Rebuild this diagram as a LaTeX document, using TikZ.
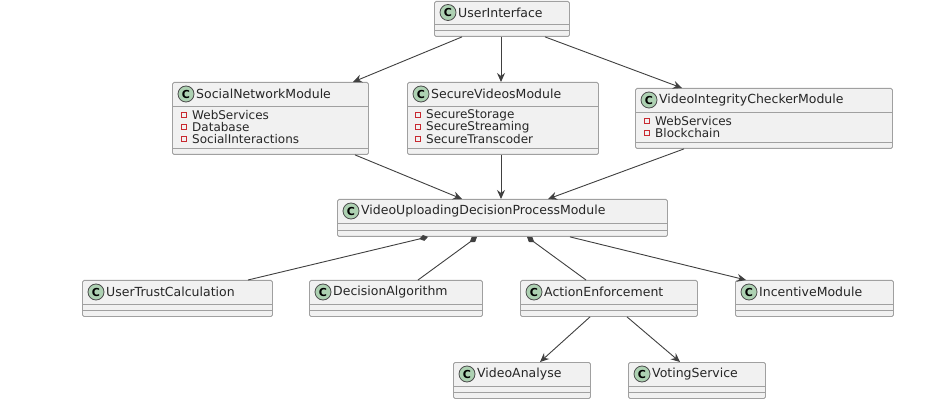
\documentclass[tikz,border=0pt]{standalone}
\usepackage{fontspec}
\setmainfont{DejaVu Sans}
\usetikzlibrary{arrows.meta}
\definecolor{boxfill}{HTML}{F1F1F1}
\definecolor{boxline}{HTML}{A0A0A0}
\definecolor{cfill}{HTML}{ADD1B2}
\definecolor{attr}{HTML}{C82930}
\tikzset{
  box/.style={draw=boxline, fill=boxfill, line width=0.9pt, rounded corners=1.5pt, anchor=north west, inner sep=0},
  sep/.style={draw=boxline, line width=0.9pt},
  ttl/.style={anchor=west, inner sep=0, font=\fontsize{12.5}{14}\selectfont, text=black!85},
  att/.style={anchor=west, inner sep=0, font=\fontsize{12}{13}\selectfont, text=black!85},
  conn/.style={draw=black!75, line width=0.9pt},
  arr/.style={conn, -{Stealth[length=9pt,width=8pt,inset=3pt]}},
  comp/.style={conn, {Diamond[length=9pt,width=6pt]}-},
}
% name x1 y1 x2 y2 title headerbottom
\newcommand\umlcls[7]{%
  \node[box, minimum width={#4pt-#2pt}, minimum height={#5pt-#3pt}] (#1) at (#2,#3) {};
  \draw[sep] (#2,#7) -- (#4,#7);
  \draw[sep] (#2,#5-6) -- (#4,#5-6);
  \node[circle, draw=black!70, fill=cfill, line width=0.8pt, minimum size=16pt, inner sep=0, font=\bfseries\fontsize{11}{12}\selectfont] (#1c) at (#2+14,{(#3+#7)/2}) {C};
  \node[ttl] (#1t) at (#2+24,{(#3+#7)/2}) {#6};
}
\newcommand\umlatt[4]{% name x y text
  \node[draw=attr, line width=0.6pt, minimum size=5pt, inner sep=0] (#1s) at (#2,#3) {};
  \node[att] (#1) at (#2+8,#3) {#4};
}
\begin{document}
\begin{tikzpicture}[x=1pt,y=-1pt]
\useasboundingbox[fill=white] (0,0) rectangle (936,419);
\umlcls{ui}{434}{1}{569}{36}{UserInterface}{24}
\umlcls{snm}{172}{82}{368}{154}{SocialNetworkModule}{106}
\umlatt{a1}{184}{115}{WebServices}
\umlatt{a2}{184}{127}{Database}
\umlatt{a3}{184}{139}{SocialInteractions}
\umlcls{svm}{407}{82}{598}{154}{SecureVideosModule}{106}
\umlatt{b1}{418}{115}{SecureStorage}
\umlatt{b2}{418}{127}{SecureStreaming}
\umlatt{b3}{418}{139}{SecureTranscoder}
\umlcls{vic}{635}{88}{892}{148}{VideoIntegrityCheckerModule}{112}
\umlatt{c1}{647}{121}{WebServices}
\umlatt{c2}{647}{133}{Blockchain}
\umlcls{vu}{337}{199}{667}{236}{VideoUploadingDecisionProcessModule}{223}
\umlcls{utc}{82}{280}{272}{316}{UserTrustCalculation}{304}
\umlcls{da}{309}{280}{482}{316}{DecisionAlgorithm}{304}
\umlcls{ae}{520}{280}{697}{316}{ActionEnforcement}{304}
\umlcls{im}{735}{280}{893}{316}{IncentiveModule}{304}
\umlcls{va}{453}{362}{590}{398}{VideoAnalyse}{386}
\umlcls{vs}{628}{362}{765}{398}{VotingService}{386}
% connectors
\draw[arr] (ui.south west)+(28,0) -- ([xshift=181pt]snm.north west);
\draw[arr] (ui.south west)+(67,0) -- ([xshift=94pt]svm.north west);
\draw[arr] (ui.south west)+(111,0) -- ([xshift=47pt]vic.north west);
\draw[arr] (snm.south west)+(183,0) -- ([xshift=125pt]vu.north west);
\draw[arr] (svm.south west)+(94,0) -- ([xshift=164pt]vu.north west);
\draw[arr] (vic.south west)+(49,0) -- ([xshift=211pt]vu.north west);
\draw[comp] ([xshift=91pt]vu.south west) -- ([xshift=166pt]utc.north west);
\draw[comp] ([xshift=140pt]vu.south west) -- ([xshift=109pt]da.north west);
\draw[comp] ([xshift=190pt]vu.south west) -- ([xshift=66pt]ae.north west);
\draw[arr] (vu.south west)+(233,0) -- ([xshift=11pt]im.north west);
\draw[arr] (ae.south west)+(70,0) -- ([xshift=87pt]va.north west);
\draw[arr] (ae.south west)+(107,0) -- ([xshift=52pt]vs.north west);
\end{tikzpicture}
\end{document}
